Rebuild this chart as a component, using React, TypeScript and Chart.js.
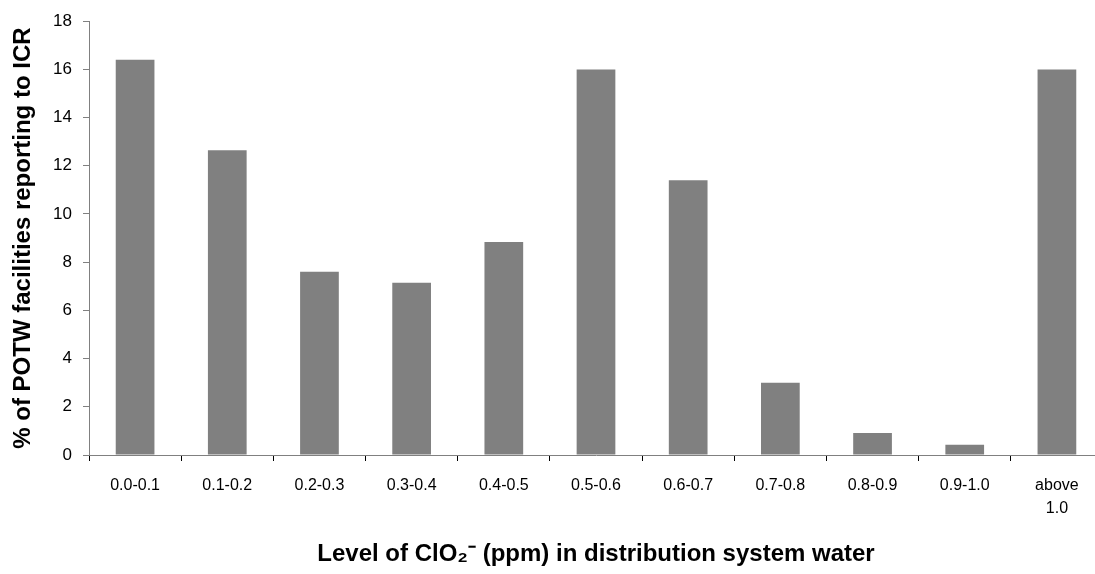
import React, { useEffect, useRef } from "react";
import { Chart, registerables } from "chart.js";

Chart.register(...registerables);

const categories: (string | string[])[] = [
  "0.0-0.1", "0.1-0.2", "0.2-0.3", "0.3-0.4", "0.4-0.5", "0.5-0.6",
  "0.6-0.7", "0.7-0.8", "0.8-0.9", "0.9-1.0", ["above", "1.0"],
];
const percentValues = [16.4, 12.65, 7.6, 7.15, 8.84, 16.0, 11.4, 3.0, 0.91, 0.43, 16.0];
const yMin = 0;
const yMax = 18;
const yStep = 2;
const xTitle = "Level of ClO\u2082\u207B (ppm) in distribution system water";
const yTitle = "% of POTW facilities reporting to ICR";

const FONT = "Arial, 'Liberation Sans', sans-serif";

export default function App() {
  const ref = useRef<HTMLCanvasElement>(null);
  useEffect(() => {
    document.body.style.margin = "0";
    const chart = new Chart(ref.current!, {
      type: "bar",
      data: {
        labels: categories,
        datasets: [
          {
            data: percentValues,
            backgroundColor: "#808080",
            borderWidth: 0,
            barPercentage: 0.42,
            categoryPercentage: 1,
          },
        ],
      },
      options: {
        animation: false,
        responsive: false,
        maintainAspectRatio: false,
        layout: { padding: { top: 20, right: 1, left: 0, bottom: 0 } },
        plugins: { legend: { display: false }, tooltip: { enabled: false } },
        scales: {
          x: {
            grid: {
              display: true,
              drawOnChartArea: false,
              drawTicks: true,
              tickLength: 6,
              tickColor: "#000",
              offset: true,
            },
            border: { color: "#808080", width: 1 },
            ticks: {
              color: "#000",
              font: { family: FONT, size: 16, lineHeight: 1.45 },
              padding: 13,
              maxRotation: 0,
              autoSkip: false,
            },
            title: {
              display: true,
              text: xTitle,
              color: "#000",
              font: { family: FONT, size: 24, weight: "bold" },
              padding: { top: 0, bottom: 5 },
            },
            afterFit: (s: any) => {
              s.height = 119;
            },
          },
          y: {
            min: yMin,
            max: yMax,
            grid: {
              display: true,
              drawOnChartArea: false,
              drawTicks: true,
              tickLength: 6,
              tickColor: "#808080",
            },
            border: { color: "#808080", width: 1 },
            ticks: {
              stepSize: yStep,
              color: "#000",
              font: { family: FONT, size: 17 },
              padding: 11,
            },
            title: {
              display: true,
              text: yTitle,
              color: "#000",
              font: { family: FONT, size: 24, weight: "bold" },
              padding: { top: 9, bottom: 0 },
            },
            afterFit: (s: any) => {
              s.width = 89;
            },
          },
        },
      },
    });
    return () => chart.destroy();
  }, []);
  return (
    <div style={{ position: "absolute", left: 0, top: 0, width: 1095, height: 574, overflow: "hidden", background: "#fff" }}>
      <canvas ref={ref} width={1104} height={574} style={{ width: 1104, height: 574, display: "block" }} />
    </div>
  );
}
